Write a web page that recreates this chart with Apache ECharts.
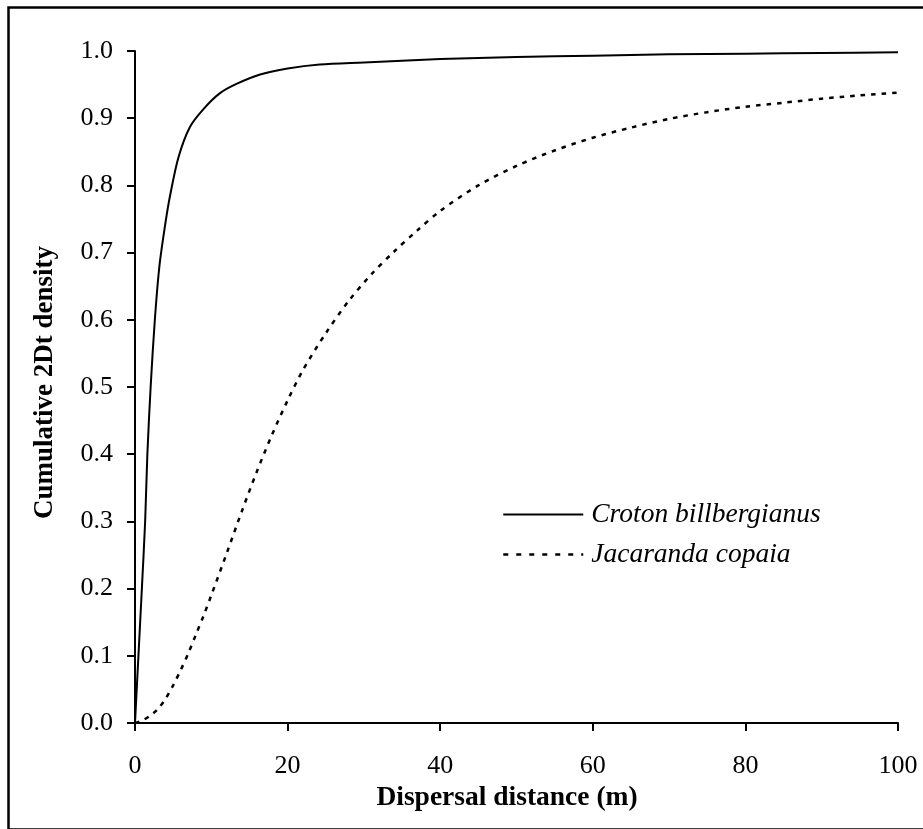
<!DOCTYPE html>
<html>
<head>
<meta charset="utf-8">
<script src="https://cdn.jsdelivr.net/npm/echarts@6/dist/echarts.min.js"></script>
<style>
  html, body { margin: 0; padding: 0; background: #fff; }
  #chart { width: 923px; height: 829px; }
</style>
</head>
<body>
<div id="chart"></div>
<script>
  // 数据：累积 2Dt 密度
  var seriesNames = ['Croton billbergianus', 'Jacaranda copaia']
  var crotonDist = [0, 0.45, 0.9, 1.33, 1.62, 2.05, 2.6, 3.2, 4.0, 4.6, 5.7, 7.2, 9.0, 11.1, 13.3, 16.4, 20, 24.2, 30, 40, 50, 60, 70, 80, 90, 100]
  var crotonCum = [0, 0.1, 0.2, 0.3, 0.4, 0.5, 0.6, 0.68, 0.745, 0.785, 0.842, 0.887, 0.914, 0.937, 0.951, 0.965, 0.974, 0.98, 0.983, 0.988, 0.991, 0.993, 0.995, 0.996, 0.997, 0.998]
  var jacarandaDist = [0, 1, 2, 3, 4, 5, 6, 7, 8, 9, 10, 12, 14, 16, 18, 20, 22, 25, 28, 31, 34, 37, 40, 45, 50, 55, 60, 65, 70, 75, 80, 85, 90, 95, 100]
  var jacarandaCum = [0, 0.004, 0.011, 0.021, 0.036, 0.056, 0.079, 0.104, 0.132, 0.16, 0.19, 0.252, 0.315, 0.375, 0.43, 0.48, 0.525, 0.58, 0.628, 0.668, 0.702, 0.733, 0.762, 0.8, 0.829, 0.852, 0.871, 0.886, 0.899, 0.909, 0.917, 0.923, 0.929, 0.934, 0.938]

  function zip(xs, ys) {
    return xs.map(function(x, i) { return [x, ys[i]] })
  }

  var fontFamily = '"Liberation Serif", "Times New Roman", serif'
  var chart = echarts.init(document.getElementById('chart'))

  var option = {
    backgroundColor: '#fff',
    animation: false,
    textStyle: { fontFamily: fontFamily, color: '#000' },
    // 外框
    graphic: [{
      type: 'rect',
      left: 6,
      top: 5,
      shape: { width: 930, height: 822 },
      style: { fill: 'none', stroke: '#000', lineWidth: 2.5 },
      silent: true
    }],
    grid: {
      left: 135,
      right: 25,
      top: 51,
      bottom: 106
    },
    legend: {
      orient: 'vertical',
      left: 497,
      top: 496,
      itemWidth: 80,
      itemHeight: 14,
      itemGap: 13,
      // 图例只画线，不画圆点
      itemStyle: { opacity: 0, color: 'rgba(0,0,0,0)', borderWidth: 0 },
      textStyle: {
        fontFamily: fontFamily,
        fontStyle: 'italic',
        fontSize: 27.5,
        color: '#000',
        padding: [0, 0, 0, 3]
      },
      data: [
        { name: seriesNames[0], lineStyle: { color: '#000', width: 2, type: 'solid' } },
        { name: seriesNames[1], lineStyle: { color: '#000', width: 2.5, type: [5, 8] } }
      ]
    },
    xAxis: {
      type: 'value',
      min: 0,
      max: 100,
      interval: 20,
      name: 'Dispersal distance (m)',
      nameLocation: 'middle',
      nameGap: 58,
      nameTextStyle: {
        fontFamily: fontFamily,
        fontWeight: 'bold',
        fontSize: 27.5,
        color: '#000',
        padding: [0, 19, 0, 0]
      },
      axisLine: { lineStyle: { color: '#000', width: 2 } },
      axisTick: { length: 8, lineStyle: { color: '#000', width: 2 } },
      axisLabel: {
        fontFamily: fontFamily,
        fontSize: 26,
        color: '#000',
        margin: 30
      },
      splitLine: { show: false }
    },
    yAxis: {
      type: 'value',
      min: 0,
      max: 1,
      interval: 0.1,
      name: 'Cumulative 2Dt density',
      nameLocation: 'middle',
      nameRotate: 90,
      nameGap: 76,
      nameTextStyle: {
        fontFamily: fontFamily,
        fontWeight: 'bold',
        fontSize: 27,
        color: '#000',
        padding: [0, 0, 0, 9]
      },
      axisLine: { show: true, lineStyle: { color: '#000', width: 2 } },
      axisTick: { show: true, length: 8, lineStyle: { color: '#000', width: 2 } },
      axisLabel: {
        fontFamily: fontFamily,
        fontSize: 26,
        color: '#000',
        margin: 22,
        formatter: function(v) { return v.toFixed(1) }
      },
      splitLine: { show: false }
    },
    series: [
      {
        name: seriesNames[0],
        type: 'line',
        data: zip(crotonDist, crotonCum),
        smooth: 0.3,
        symbol: 'none',
        lineStyle: { color: '#000', width: 2 },
        itemStyle: { color: '#000' }
      },
      {
        name: seriesNames[1],
        type: 'line',
        data: zip(jacarandaDist, jacarandaCum),
        smooth: 0.3,
        symbol: 'none',
        lineStyle: { color: '#000', width: 2.5, type: [4.5, 6] },
        itemStyle: { color: '#000' }
      }
    ]
  }
  chart.setOption(option)
</script>
</body>
</html>
